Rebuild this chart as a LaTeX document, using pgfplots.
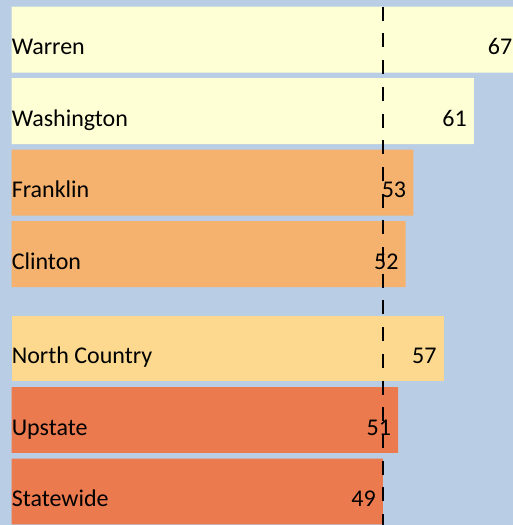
\documentclass[border=0pt]{standalone}
\usepackage{pgfplots}
\pgfplotsset{compat=1.18}
\usepackage{fontspec}
\setmainfont{Carlito}
\definecolor{bgblue}{HTML}{B9CDE5}
\definecolor{paleyel}{HTML}{FFFFD5}
\definecolor{lorange}{HTML}{F5B26E}
\definecolor{ncyel}{HTML}{FCD98F}
\definecolor{dorange}{HTML}{EC7A4F}
\pgfplotsset{
  valnode/.style={nodes near coords, nodes near coords style={anchor=base east, inner sep=0pt, xshift=-7pt, yshift=-15pt,
    font=\fontsize{24}{28}\selectfont, text=black}},
  namenode/.style={nodes near coords, nodes near coords style={anchor=base west, inner sep=0pt, xshift=0pt, yshift=-15pt,
    font=\fontsize{24}{28}\selectfont, text=black}},
}
\begin{document}
\begin{tikzpicture}
\begin{axis}[
  width=527pt, height=525pt, scale only axis,
  xmin=-1.53, xmax=68, ymin=-0.4685, ymax=6.874,
  axis background/.style={fill=bgblue},
  axis line style={draw=none}, tick style={draw=none},
  xtick=\empty, ytick=\empty,
  xbar, bar width=0.92, bar shift=0pt,
  /pgf/number format/assume math mode=true,
]
\addplot[draw=none, fill=paleyel, valnode] coordinates {(67,6.32) (61,5.32)};
\addplot[draw=none, fill=lorange, valnode] coordinates {(53,4.32) (52,3.32)};
\addplot[draw=none, fill=ncyel, valnode] coordinates {(57,2)};
\addplot[draw=none, fill=dorange, valnode] coordinates {(51,1) (49,0)};
\addplot[draw=none, fill=none, point meta=explicit symbolic, namenode]
  coordinates {(0,6.32) [Warren] (0,5.32) [Washington] (0,4.32) [Franklin]
   (0,3.32) [Clinton] (0,2) [North Country] (0,1) [Upstate] (0,0) [Statewide]};
\addplot[xbar=false, sharp plot, black, line width=2.7pt, dash pattern=on 14pt off 12.7pt] coordinates {(49,6.78) (49,-0.4685)};
\coordinate (bl) at (axis cs:-1.53,-0.4685);
\coordinate (tr) at (axis cs:66.15,6.874);
\end{axis}
\pgfresetboundingbox
\path[use as bounding box] (bl) rectangle (tr);
\end{tikzpicture}
\end{document}
